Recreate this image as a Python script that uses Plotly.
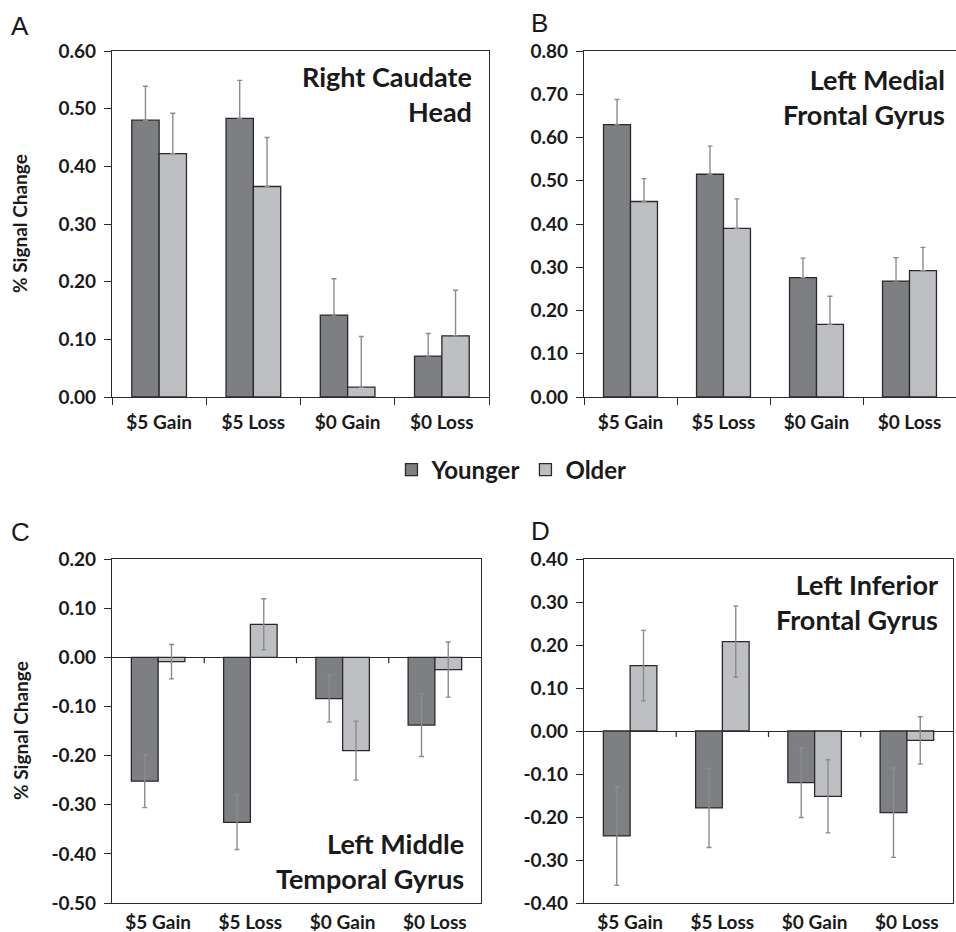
import plotly.graph_objects as go

# Reward conditions shown on every panel
categories = ["$5 Gain", "$5 Loss", "$0 Gain", "$0 Loss"]
groups = ["Younger", "Older"]

# A: Right Caudate Head (% signal change, upward SEM)
a_young = [0.480, 0.483, 0.142, 0.071]
a_young_err = [0.059, 0.066, 0.063, 0.039]
a_old = [0.422, 0.365, 0.017, 0.106]
a_old_err = [0.070, 0.085, 0.088, 0.079]

# B: Left Medial Frontal Gyrus
b_young = [0.630, 0.515, 0.276, 0.268]
b_young_err = [0.058, 0.065, 0.045, 0.054]
b_old = [0.452, 0.390, 0.168, 0.292]
b_old_err = [0.053, 0.068, 0.065, 0.054]

# C: Left Middle Temporal Gyrus (symmetric SEM)
c_young = [-0.252, -0.336, -0.084, -0.138]
c_young_err = [0.054, 0.055, 0.048, 0.064]
c_old = [-0.009, 0.067, -0.190, -0.025]
c_old_err = [0.035, 0.052, 0.060, 0.056]

# D: Left Inferior Frontal Gyrus
d_young = [-0.244, -0.179, -0.120, -0.190]
d_young_err = [0.115, 0.092, 0.081, 0.104]
d_old = [0.152, 0.208, -0.152, -0.022]
d_old_err = [0.082, 0.083, 0.085, 0.055]

panel_letters = ["A", "B", "C", "D"]
region_names = ["Right Caudate<br>Head", "Left Medial<br>Frontal Gyrus",
                "Left Middle<br>Temporal Gyrus", "Left Inferior<br>Frontal Gyrus"]
y_ranges = [[0, 0.6], [0, 0.8], [-0.5, 0.2], [-0.4, 0.4]]
y_title = "% Signal Change"

W, H = 956, 932
FONT = "Lato"
DARK = "#7e7f83"
LIGHT = "#bebfc2"
EDGE = "#2a2a2a"
ERR = "#8c8c8c"
TXT = "#1a1a1a"


def px_x(v):
    return v / W


def px_y(v):
    return 1 - v / H


def tick_labels(lo, hi):
    # 0.10 steps, written with a plain hyphen for negatives
    steps = int(round((hi - lo) / 0.1))
    vals = [round(lo + 0.1 * k, 2) for k in range(steps + 1)]
    text = [("-" if v < 0 else "") + f"{abs(v):.2f}" for v in vals]
    return vals, text


# plot-area boxes in pixels: (left, right, top, bottom)
boxes = [(112, 489, 51, 397), (584, 956, 51, 397),
         (112, 481, 559, 903), (584, 953, 559, 903)]

panels = [
    (a_young, a_young_err, a_old, a_old_err, False),
    (b_young, b_young_err, b_old, b_old_err, False),
    (c_young, c_young_err, c_old, c_old_err, True),
    (d_young, d_young_err, d_old, d_old_err, True),
]

fig = go.Figure()

for i, (yv, ye, ov, oe, symmetric) in enumerate(panels):
    n = i + 1
    xa = "x" if n == 1 else f"x{n}"
    ya = "y" if n == 1 else f"y{n}"
    for name, vals, errs, color in ((groups[0], yv, ye, DARK), (groups[1], ov, oe, LIGHT)):
        err = dict(type="data", array=errs, color=ERR, thickness=1.4, width=2.5)
        if not symmetric:
            err["symmetric"] = False
            err["arrayminus"] = [0] * len(errs)
        fig.add_trace(go.Bar(
            x=categories, y=vals, name=name, xaxis=xa, yaxis=ya,
            marker=dict(color=color, line=dict(color=EDGE, width=1.3)),
            error_y=err, showlegend=(n == 1), legendgroup=name,
        ))

layout = dict(
    width=W, height=H, margin=dict(l=0, r=0, t=0, b=0, autoexpand=False),
    paper_bgcolor="white", plot_bgcolor="white",
    barmode="group", bargap=0.42, bargroupgap=0,
    font=dict(family=FONT, color=TXT),
    showlegend=True,
    legend=dict(orientation="h", x=0.535, xanchor="center", y=px_y(470), yanchor="middle",
                font=dict(family=FONT, size=24, weight="bold", color=TXT),
                bgcolor="rgba(0,0,0,0)", itemwidth=30, tracegroupgap=0),
)

annotations = []
shapes = []
for i in range(4):
    n = i + 1
    left, right, top, bottom = boxes[i]
    xkey = "xaxis" if n == 1 else f"xaxis{n}"
    ykey = "yaxis" if n == 1 else f"yaxis{n}"
    below_zero = y_ranges[i][0] < 0
    tv, tt = tick_labels(*y_ranges[i])
    layout[xkey] = dict(
        domain=[px_x(left), px_x(right)],
        anchor="y" if n == 1 else f"y{n}", automargin=False,
        type="category", showline=True, mirror=True, linecolor=EDGE, linewidth=1.2,
        showgrid=False, zeroline=False,
        ticks="" if below_zero else "outside", tickson="boundaries",
        ticklen=7, tickcolor=EDGE, tickwidth=1.2,
        ticklabelstandoff=2 if below_zero else 8,
        tickfont=dict(family=FONT, size=19, weight="bold", color=TXT),
    )
    layout[ykey] = dict(
        domain=[px_y(bottom), px_y(top)],
        anchor="x" if n == 1 else f"x{n}", automargin=False,
        range=y_ranges[i], tickmode="array", tickvals=tv, ticktext=tt,
        showline=True, mirror=True, linecolor=EDGE, linewidth=1.2,
        showgrid=False, zeroline=below_zero, zerolinecolor=EDGE, zerolinewidth=1.2,
        ticks="outside", ticklen=7, tickcolor=EDGE, tickwidth=1.2,
        ticklabelstandoff=4,
        tickfont=dict(family=FONT, size=19, weight="bold", color=TXT),
    )

    # small ticks hanging from the zero line between categories
    if below_zero:
        for k in range(1, len(categories)):
            shapes.append(dict(
                type="line", xref="x" if n == 1 else f"x{n}", yref="y" if n == 1 else f"y{n}",
                x0=k - 0.5, x1=k - 0.5, ysizemode="pixel", yanchor=0, y0=0, y1=-6,
                line=dict(color=EDGE, width=1.2)))

    # rotated axis title on the left-hand panels
    if i in (0, 2):
        annotations.append(dict(
            text=y_title, xref="paper", yref="paper", x=px_x(20), y=px_y((top + bottom) / 2),
            xanchor="center", yanchor="middle", textangle=-90, showarrow=False,
            font=dict(family=FONT, size=19, weight="bold", color=TXT)))

# panel letters
letter_pos = [(9, 9), (529, 6), (9, 515), (529, 514)]
for letter, (lx, ly) in zip(panel_letters, letter_pos):
    annotations.append(dict(
        text=letter, xref="paper", yref="paper", x=px_x(lx), y=px_y(ly),
        xanchor="left", yanchor="top", showarrow=False,
        font=dict(family="Liberation Sans", size=26, color=TXT)))

# region names inside each panel
name_pos = [(474, 58, "top"), (947, 61, "top"), (466, 897, "bottom"), (940, 566, "top")]
for txt, (nx, ny, anc) in zip(region_names, name_pos):
    annotations.append(dict(
        text=txt, xref="paper", yref="paper", x=px_x(nx), y=px_y(ny),
        xanchor="right", yanchor=anc, align="right", showarrow=False,
        font=dict(family=FONT, size=27, weight="bold", color=TXT)))

layout["annotations"] = annotations
layout["shapes"] = shapes
fig.update_layout(**layout)

fig.write_html("out.html")
